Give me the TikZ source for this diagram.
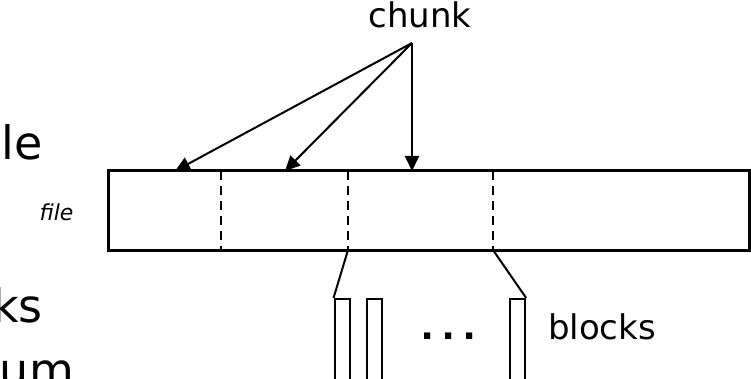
\documentclass[tikz,border=0pt]{standalone}
\usepackage{fontspec}
\setmainfont{DejaVu Sans}
\newfontfamily\dotsfont{Liberation Sans}
\usetikzlibrary{arrows.meta}
\begin{document}
\begin{tikzpicture}[x=1pt,y=-1pt,
  lbl/.style={inner sep=0pt, anchor=base, font=\fontsize{34}{38}\selectfont},
  big/.style={inner sep=0pt, anchor=base east, font=\fontsize{46}{50}\selectfont},
  ptr/.style={line width=2pt, -{Triangle[length=15pt,width=14pt]}},
  div/.style={line width=2pt, dash pattern=on 9pt off 6pt},
  blk/.style={draw, line width=2.2pt, inner sep=0pt, minimum width=15pt, minimum height=100pt, anchor=north west},
  lnk/.style={line width=2pt}]
\useasboundingbox (0,0) rectangle (751,379);
\fill[white] (0,0) rectangle (751,379);
% partially visible left texts
\node[big] (le) at (43,160) {le};
\node[big] (ks) at (43,322) {ks};
\node[big] (um) at (74,386) {um};
% file bar
\node[draw, line width=3pt, inner sep=0pt, minimum width=641pt, minimum height=79pt] (file) at (428.5,210.5) {};
\node[inner sep=0pt, anchor=base, font=\itshape\fontsize{22}{26}\selectfont] (filelbl) at (56.5,220) {file};
% dashed chunk boundaries
\foreach \x/\n in {221/d1,348/d2,493/d3}{
  \coordinate (\n t) at (\x,171);
  \coordinate (\n b) at (\x,250);
  \draw[div] (\n t) -- (\n b);
}
% chunk label and arrows
\node[lbl] (chunk) at (420,28) {chunk};
\coordinate (src) at (412,43);
\coordinate (t1) at (175,171);
\coordinate (t2) at (285,171);
\coordinate (t3) at (412,171);
\draw[ptr] (src) -- (t1);
\draw[ptr] (src) -- (t2);
\draw[ptr] (src) -- (t3);
% blocks
\node[blk] (b1) at (333.5,298) {};
\node[blk] (b2) at (365.5,298) {};
\node[blk] (b3) at (509,298) {};
\draw[lnk] (d2b) -- (b1.north west);
\draw[lnk] (d3b) -- (b3.north east);
\node[inner sep=0pt, anchor=base, font=\dotsfont\bfseries\fontsize{44}{48}\selectfont] (dots) at (448.5,339) {.\kern9pt.\kern9pt.};
\node[lbl] (blocks) at (602,339) {blocks};
\end{tikzpicture}
\end{document}
